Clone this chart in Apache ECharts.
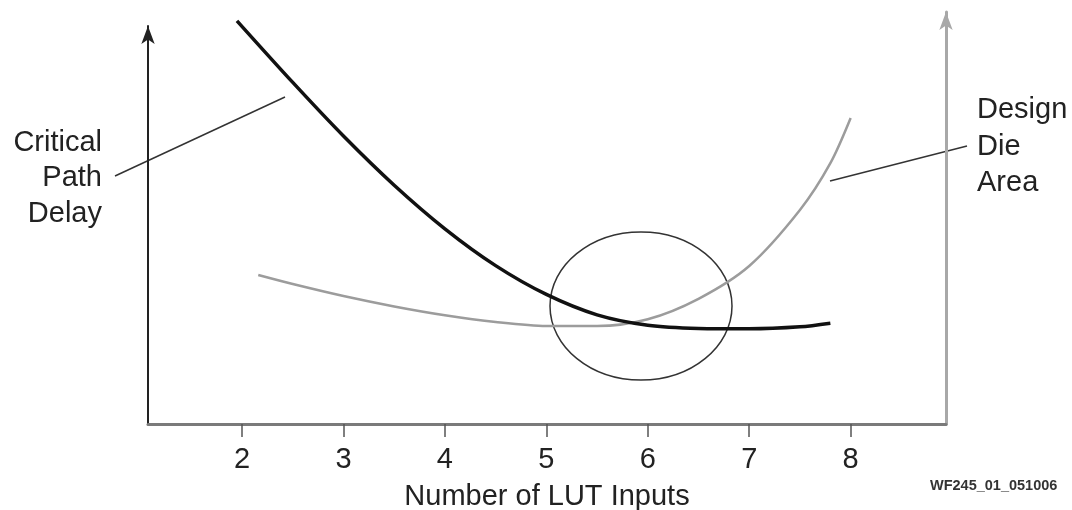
<!DOCTYPE html>
<html>
<head>
<meta charset="utf-8">
<script src="https://cdn.jsdelivr.net/npm/echarts@6/dist/echarts.min.js"></script>
<style>
html, body { margin: 0; background: #fff; }
#chart { width: 1072px; height: 510px; }
</style>
</head>
<body>
<div id="chart"></div>
<script>
// x ticks
var tickValues = [2, 3, 4, 5, 6, 7, 8];

// critical path delay (black)
var delayData = [
    [1.95, 100.8], [2.5, 85.4], [3.0, 72.0], [3.5, 59.7], [4.0, 48.8],
    [4.5, 39.6], [5.0, 32.4], [5.5, 27.3], [6.0, 24.7], [6.5, 23.9],
    [7.0, 23.8], [7.5, 24.3], [7.8, 25.2]
];

// design die area (gray)
var areaData = [
    [2.16, 37.25], [2.5, 35.0], [3.0, 32.0], [3.5, 29.4], [4.0, 27.2],
    [4.5, 25.5], [5.0, 24.5], [5.5, 24.5], [6.0, 26.2], [6.5, 31.3],
    [7.0, 39.5], [7.5, 53.5], [7.8, 65.2], [8.0, 76.5]
];

var font = '"Liberation Sans", Arial, Helvetica, sans-serif';

var chart = echarts.init(document.getElementById('chart'));

var option = {
    animation: false,
    grid: [
        { left: 148, right: 126, top: 12, bottom: 86, outerBoundsMode: 'none' },
        { left: 148, right: 126, top: 26, bottom: 86, outerBoundsMode: 'none' }
    ],
    xAxis: [
        {
            gridIndex: 0,
            type: 'value',
            min: 1.073,
            max: 8.94,
            name: 'Number of LUT Inputs',
            nameLocation: 'middle',
            nameGap: 58,
            nameTextStyle: { fontSize: 29, color: '#222', fontFamily: font },
            axisLine: { show: true, onZero: false, lineStyle: { color: '#7a7a7a', width: 3 } },
            axisTick: {
                show: true,
                customValues: tickValues,
                length: 13,
                lineStyle: { color: '#555', width: 1.5 }
            },
            axisLabel: {
                customValues: tickValues,
                fontSize: 29,
                color: '#222',
                fontFamily: font,
                margin: 21
            },
            splitLine: { show: false }
        },
        {
            gridIndex: 1,
            type: 'value',
            min: 1.073,
            max: 8.94,
            show: false
        }
    ],
    yAxis: [
        {
            gridIndex: 0,
            type: 'value',
            position: 'right',
            min: 0,
            max: 103,
            axisLine: {
                show: true,
                onZero: false,
                symbol: ['none', 'arrow'],
                symbolSize: [10, 18],
                lineStyle: { color: '#a8a8a8', width: 3 }
            },
            axisTick: { show: false },
            axisLabel: { show: false },
            splitLine: { show: false }
        },
        {
            gridIndex: 1,
            type: 'value',
            position: 'left',
            min: 0,
            max: 100,
            axisLine: {
                show: true,
                onZero: false,
                symbol: ['none', 'arrow'],
                symbolSize: [10, 18],
                lineStyle: { color: '#222', width: 2 }
            },
            axisTick: { show: false },
            axisLabel: { show: false },
            splitLine: { show: false }
        }
    ],
    series: [
        {
            name: 'Design Die Area',
            type: 'line',
            xAxisIndex: 0,
            yAxisIndex: 0,
            data: areaData,
            smooth: 0.3,
            showSymbol: false,
            clip: false,
            lineStyle: { color: '#9c9c9c', width: 2.5 }
        },
        {
            name: 'Critical Path Delay',
            type: 'line',
            xAxisIndex: 0,
            yAxisIndex: 0,
            data: delayData,
            smooth: 0.3,
            showSymbol: false,
            clip: false,
            lineStyle: { color: '#111', width: 3.5 }
        }
    ],
    graphic: [
        {
            type: 'text',
            x: 102,
            y: 125,
            style: {
                text: 'Critical\nPath\nDelay',
                align: 'right',
                verticalAlign: 'top',
                lineHeight: 35.5,
                fontSize: 29,
                fontFamily: font,
                fill: '#222'
            }
        },
        {
            type: 'text',
            x: 977,
            y: 92,
            style: {
                text: 'Design\nDie\nArea',
                align: 'left',
                verticalAlign: 'top',
                lineHeight: 36.5,
                fontSize: 29,
                fontFamily: font,
                fill: '#222'
            }
        },
        {
            type: 'line',
            shape: { x1: 115, y1: 176, x2: 285, y2: 97 },
            style: { stroke: '#333', lineWidth: 1.5 }
        },
        {
            type: 'line',
            shape: { x1: 830, y1: 181, x2: 967, y2: 146 },
            style: { stroke: '#333', lineWidth: 1.5 }
        },
        {
            type: 'ellipse',
            shape: { cx: 641, cy: 306, rx: 91, ry: 74 },
            style: { fill: 'none', stroke: '#333', lineWidth: 1.5 }
        },
        {
            type: 'text',
            x: 930,
            y: 486,
            style: {
                text: 'WF245_01_051006',
                align: 'left',
                verticalAlign: 'middle',
                fontSize: 14.5,
                fontWeight: 'bold',
                fontFamily: font,
                fill: '#333'
            }
        }
    ]
};

chart.setOption(option);
</script>
</body>
</html>
